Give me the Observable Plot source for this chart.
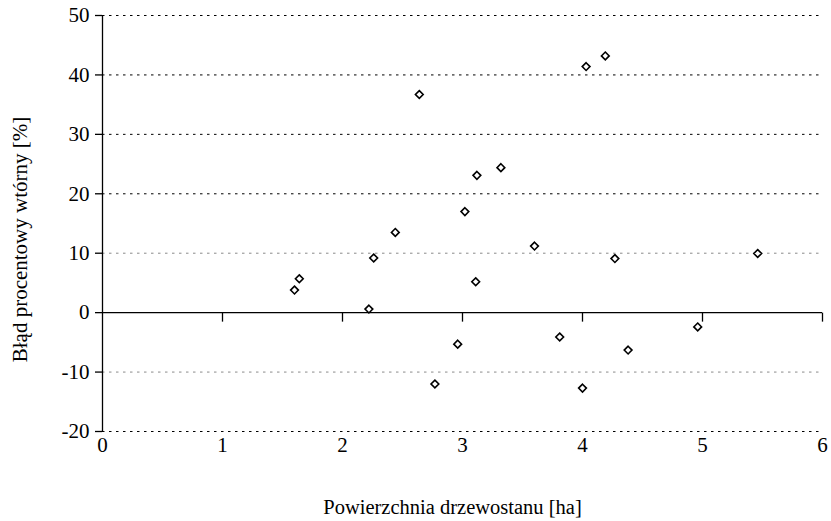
<!DOCTYPE html>
<html>
<head>
<meta charset="utf-8">
<script src="https://cdn.jsdelivr.net/npm/d3@7"></script>
<script src="https://cdn.jsdelivr.net/npm/@observablehq/plot@0.6"></script>
<style>
  html, body { margin: 0; padding: 0; background: #fff; }
  svg { display: block; }
  svg text, svg tspan { font-family: "Liberation Serif", "Times New Roman", serif !important; }
</style>
</head>
<body>
<div id="chart"></div>
<script>
// Powierzchnia drzewostanu [ha]
const areaHa = [1.60, 1.64, 2.22, 2.26, 2.44, 2.64, 2.77, 2.96, 3.02, 3.11, 3.12, 3.32, 3.60, 3.81, 4.00, 4.03, 4.19, 4.27, 4.38, 4.96, 5.46];
// Błąd procentowy wtórny [%]
const errorPct = [3.8, 5.7, 0.6, 9.2, 13.5, 36.7, -12.0, -5.3, 17.0, 5.2, 23.1, 24.4, 11.2, -4.1, -12.7, 41.4, 43.2, 9.1, -6.3, -2.4, 9.95];

const xTicks = [0, 1, 2, 3, 4, 5, 6];
const xTickMarks = [1, 2, 3, 4, 5, 6];
const yTicks = [-20, -10, 0, 10, 20, 30, 40, 50];
const gridDark = [-20, 20, 30, 40, 50];
const gridLight = [-10, 10];

const xTitle = "Powierzchnia drzewostanu [ha]";
const yTitle = "Błąd procentowy wtórny [%]";

const points = areaHa.map((x, i) => ({x, y: errorPct[i]}));

const tickDown = { draw(ctx) { ctx.moveTo(0, 0); ctx.lineTo(0, 9); } };

const chart = Plot.plot({
  width: 831,
  height: 521,
  marginLeft: 102,
  marginRight: 9,
  marginTop: 15,
  marginBottom: 90,
  style: { fontFamily: "Liberation Serif, serif", fontSize: "21px", color: "#000", background: "#fff" },
  x: { domain: [0, 6] },
  y: { domain: [-20, 50] },
  marks: [
    Plot.ruleY(gridDark, { stroke: "#000", strokeDasharray: "2.5,4.5", strokeWidth: 1 }),
    Plot.ruleY(gridLight, { stroke: "#8a8a8a", strokeDasharray: "2.5,4.5", strokeWidth: 1 }),
    Plot.ruleY([0], { stroke: "#000", strokeWidth: 1.3 }),
    Plot.ruleX([0], { stroke: "#000", strokeWidth: 1.3 }),
    Plot.dot(xTickMarks, { x: d => d, y: () => 0, symbol: tickDown, stroke: "#000", strokeWidth: 1.3 }),
    Plot.axisY({ anchor: "left", ticks: yTicks, tickSize: 7, tickPadding: 6, tickFormat: d => String(d), label: null, fontSize: 21, strokeWidth: 1.3 }),
    Plot.axisX({ anchor: "bottom", ticks: xTicks, tickSize: 0, tickPadding: 6, tickFormat: d => String(d), label: null, fontSize: 21 }),
    Plot.dot(points, { x: "x", y: "y", symbol: "diamond2", r: 3.5, stroke: "#000", strokeWidth: 1.6, fill: "#fff" }),
    Plot.text([xTitle], { frameAnchor: "bottom", dx: -10, dy: 82, fontSize: 20.5, fill: "#000" }),
    Plot.text([yTitle], { frameAnchor: "left", textAnchor: "middle", rotate: -90, dx: -82, dy: 16, fontSize: 21, fill: "#000" })
  ]
});
document.getElementById("chart").appendChild(chart);
</script>
</body>
</html>
